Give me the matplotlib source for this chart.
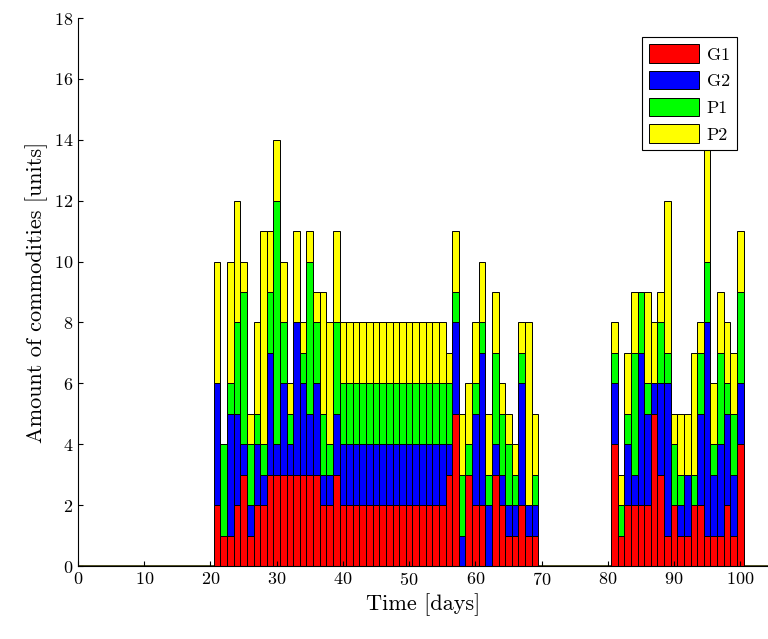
import numpy as np
import matplotlib
matplotlib.use("Agg")
import matplotlib.pyplot as plt

plt.rcParams['font.family'] = 'serif'
plt.rcParams['font.serif'] = ['cmr10']
plt.rcParams['mathtext.fontset'] = 'cm'
plt.rcParams['axes.formatter.use_mathtext'] = True

# days with nonzero stock, values per commodity
days = list(range(21, 70)) + list(range(81, 101))
g1 = [2, 1, 1, 2, 3, 1, 2, 2, 3, 3, 3, 3, 3, 3, 3, 3, 2, 2, 3] + [2] * 16 + \
     [3, 5, 0, 3, 2, 2, 0, 3, 2, 1, 1, 2, 1, 1] + \
     [4, 1, 2, 2, 2, 2, 5, 3, 1, 2, 1, 1, 2, 2, 1, 1, 1, 2, 1, 4]
g2 = [4, 0, 4, 3, 1, 1, 2, 1, 4, 1, 3, 1, 5, 3, 2, 3, 1, 1, 2] + [2] * 16 + \
     [1, 3, 1, 0, 3, 5, 2, 1, 1, 1, 1, 4, 1, 1] + \
     [2, 0, 2, 1, 5, 3, 1, 3, 5, 0, 1, 2, 0, 3, 7, 2, 3, 3, 2, 2]
p1 = [0, 3, 1, 3, 5, 2, 1, 1, 2, 8, 2, 1, 0, 1, 5, 2, 2, 1, 3] + [2] * 16 + \
     [2, 1, 2, 1, 1, 1, 1, 3, 2, 2, 1, 1, 0, 1] + \
     [1, 1, 1, 4, 2, 1, 0, 2, 1, 2, 1, 0, 1, 2, 2, 1, 3, 1, 2, 3]
p2 = [4, 0, 4, 4, 1, 1, 3, 7, 2, 2, 2, 1, 3, 1, 1, 1, 4, 4, 3] + [2] * 16 + \
     [1, 2, 2, 2, 2, 2, 2, 2, 1, 1, 1, 1, 6, 2] + \
     [1, 1, 2, 2, 0, 3, 2, 1, 5, 1, 2, 2, 4, 1, 4, 2, 2, 2, 2, 2]

t = np.arange(0, 105)
series = {'G1': g1, 'G2': g2, 'P1': p1, 'P2': p2}
colors = {'G1': 'red', 'G2': 'blue', 'P1': (0, 1, 0), 'P2': 'yellow'}

fig = plt.figure(figsize=(7.68, 6.39), dpi=100)
ax = fig.add_axes([0.1016, 0.1142, 0.8984, 0.8576])

bottom = np.zeros(len(t))
for name, vals in series.items():
    full = np.zeros(len(t))
    full[days] = vals
    ax.bar(t, full, width=1.0, bottom=bottom, color=colors[name],
           edgecolor='black', linewidth=0.7, label=name)
    bottom += full

# zero-height bars show as a dark line on the baseline
ax.axhline(0, color='#333300', linewidth=1.2, zorder=0.5)

ax.set_xlim(0, 104.2)
ax.set_ylim(0, 18)
ax.set_xticks(np.arange(0, 101, 10))
ax.set_yticks(np.arange(0, 19, 2))
ax.tick_params(direction='in', labelsize=13)
ax.spines['top'].set_visible(False)
ax.spines['right'].set_visible(False)
ax.set_xlabel('Time [days]', fontsize=16)
ax.set_ylabel('Amount of commodities [units]', fontsize=16)

leg = ax.legend(loc='upper right', bbox_to_anchor=(0.963, 0.975), fontsize=13,
                fancybox=False, edgecolor='black', framealpha=1,
                handlelength=2.8, handleheight=1.2, handletextpad=0.4,
                borderaxespad=0.3, labelspacing=0.45)
leg.get_frame().set_linewidth(0.8)

fig.savefig('out.png', dpi=100)
